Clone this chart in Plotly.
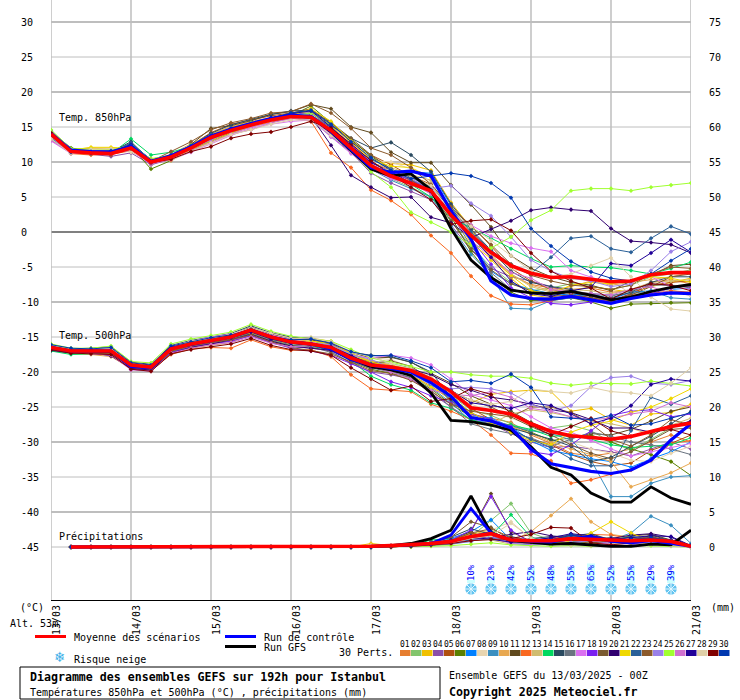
import plotly.graph_objects as go

hours = list(range(0, 198, 6))
day_ticks = list(range(0, 216, 24))
day_labels = ["13/03","14/03","15/03","16/03","17/03","18/03","19/03","20/03","21/03"]
left_ticks = list(range(30, -50, -5))
right_ticks = list(range(75, -5, -5))
snow_hours = list(range(126, 192, 6))
snow_pct = [10,23,42,52,48,55,65,52,55,29,39]

mean850 = [14,11.5,11.3,11.2,12,10,10.7,12,13.5,14.5,15.3,16,16.5,16.4,14.5,12,9.5,8,7,5.9,2.4,-0.5,-2.9,-4.8,-5.9,-6.5,-6.4,-6.8,-7.1,-7,-6.1,-5.8,-5.8]
ctrl850 = [14,11.7,11.5,11.4,12.2,10.1,10.9,12.2,13.7,14.7,15.5,16.2,16.7,16.5,14.4,11.8,9.2,8.5,8.7,8,3,-1,-7,-9,-9.5,-9.6,-9.2,-9.7,-10.2,-9.5,-9,-8.7,-8.8]
gfs850 = [14,11.6,11.4,11.3,12.1,10.1,10.8,12.1,13.6,14.6,15.4,16.1,16.6,16.4,14.3,11.7,9,8,8.3,6,0.5,-4,-6.5,-8.3,-8.7,-8.8,-8.5,-9,-9.7,-9.3,-8.5,-7.9,-7.5]
mean500 = [-16.5,-17,-17,-17,-19,-19.3,-16.7,-16,-15.5,-15,-14,-15,-15.7,-16,-16.5,-18,-19,-19.3,-19.8,-21,-22.8,-25.1,-25.5,-26,-27.4,-28.5,-29.1,-29.4,-29.6,-29.2,-28.5,-27.8,-27.3]
ctrl500 = [-16.5,-17,-17,-17,-19.2,-19.4,-16.6,-16,-15.5,-15,-14,-15,-15.7,-16,-16.7,-18.2,-19,-19.5,-20,-21.5,-23.5,-26.5,-27,-28,-31,-33.1,-33.7,-34.2,-34.5,-34,-32.6,-29.7,-27.4]
gfs500 = [-16.5,-17,-17,-17.1,-19.1,-19.4,-16.6,-16,-15.5,-15,-14,-15,-15.7,-16,-16.6,-18.1,-19.2,-19.7,-20.5,-23,-26.9,-27.1,-27.6,-28.3,-30.7,-33.6,-34.7,-37.3,-38.6,-38.6,-36.4,-38,-38.9]
P0 = [0]*14
meanp = P0+[0.05,0.1,0.2,0.3,0.5,0.8,1.5,1.9,1.0,0.9,0.9,1.2,1.1,1,0.9,1,0.8,0.1]
ctrlp = P0+[0.05,0.1,0.2,0.3,0.5,1.7,5.5,2,1,0.8,0.7,1.2,1.5,0.8,0.6,0.9,0.5,0.1]
gfsp = P0+[0.05,0.1,0.2,0.5,1.2,2.4,7.3,2,0.9,0.6,0.4,0.5,0.3,0.1,0.1,0.4,0.3,2.4]

member_colors = ["#E67E30","#82C46C","#F0C000","#8B4FA8","#B05010","#5B8000","#0080FF","#E8D5B0","#3A8FC0","#E8A850","#604A1E","#F96820","#D0BC70","#00D860","#2A4A60","#6A7480","#DA70F0","#7A20F0","#7A5A30","#300070","#F0D800","#2A6098","#8B5A2B","#9A80E8","#A0FF30","#D070D0","#200098","#E0D0A8","#800000","#0038B0"]

t850 = [
[13.5,11.3,11.5,11.4,12,9.8,10.5,11.9,13.3,14.6,15.2,15.9,16.4,16.8,14,12.2,10,8.8,7.2,6.2,2.5,-0.5,-3.5,-6.2,-7.5,-8,-8.2,-8,-8.6,-8.4,-7.2,-6.8,-7.4],
[14.2,11.6,11.4,11.2,12.8,10.2,11,12.3,13.8,14.9,15.6,16.3,17,17.2,15,12.6,9.6,7.6,6.4,5,1.5,-2,-5,-7.2,-8.4,-8,-7.4,-7.8,-8.2,-7.6,-6.4,-6,-5.4],
[13.8,11.8,12,11.8,11.6,9.9,10.6,11.6,14,15,15.7,16,16.4,16.6,15.2,12.8,10.4,9.8,9.6,8.8,4.2,0.6,-4,-6.6,-9,-9.4,-8.4,-7.8,-8.2,-8.6,-7.8,-7.2,-6.6],
[13.2,11.4,11.1,10.8,11.3,9.6,10.4,11.8,13,14,14.6,15.6,16.4,16.2,13.6,11.4,8.4,7,5.8,4.6,1,-2.6,-5.2,-6.4,-7,-7.8,-8.6,-9.2,-9.8,-8.8,-7.4,-7.6,-7.8],
[14.1,11.5,11.2,11,12.4,10,10.8,12.4,14.2,15.4,16,16.6,17,17.6,15.4,13,11,9.6,8,6.8,3.4,1,-2,-5.2,-7,-8.2,-8.8,-9.4,-10,-8.8,-7.6,-7.2,-7],
[14.4,12,11.6,11.4,12.2,9,10.2,11.8,13,14.2,15,15.8,16.6,18,15.6,13.2,10.8,9,7.4,6,2.2,-2.8,-6.4,-8.6,-9.8,-9.8,-9.4,-10,-10.9,-10.3,-10.2,-10.1,-10.1],
[13.9,11.6,11.5,11.6,12.6,10.4,10.9,12,13.4,14.8,15.4,16.2,16.8,17,15,11.8,9.2,8.8,8.6,8.4,3.8,-1.4,-5.6,-7.4,-8.2,-8.8,-9,-8.8,-9.6,-8.6,-8.4,-8.2,-8],
[13.6,11.2,11.9,11.8,11.4,10.3,10.2,11.5,12.8,13.9,14.8,15.6,16.2,16.4,14.6,12.4,10.2,10,9,7,3,0,-3,-5.4,-5.6,-6.4,-6.8,-6.6,-7,-8.8,-8.8,-8.2,-9.2],
[13.4,11.4,11.3,11.5,12.3,10.1,10.7,12.2,13.6,14.2,15,16,16.4,15.9,13.8,11.6,9,7.4,6.2,5,0.8,-3.2,-6.2,-10.9,-11,-9.8,-9.4,-8.8,-9,-8.8,-8.4,-9.4,-9.6],
[14,11.7,12,12,11.8,10.2,11.1,12.6,13.9,15.1,15.8,16.4,16.9,17.2,14.8,12,9.4,8.2,7.8,6.6,3.2,-0.2,-3.4,-6,-7.6,-8.4,-7.8,-7,-7.6,-7.2,-6.8,-6.4,-5.8],
[14.3,11.8,11.2,11.3,12.1,9.7,10.6,12.5,14.8,15.2,15.9,16.8,17.2,18.2,17.6,15,14.2,11.4,9.9,9.9,6.7,3.9,0.7,-3.4,-5.2,-6.4,-7.2,-7.6,-8.4,-7,-6.2,-4.8,-4.6],
[13.7,11.2,11,11.1,11.6,9.9,10.3,11.7,13.2,14.3,15.1,15.7,16.3,15.8,11.3,9.2,6,4.5,2.5,-0.5,-3,-6.3,-9.1,-10.3,-10.4,-9.8,-9.2,-9.6,-9.8,-9,-8.8,-8.4,-8.6],
[14.1,11.5,11.7,11.7,12,10,11,12.2,13.6,14.7,15.5,16.1,16.6,16.8,14.6,12.2,9.8,9.2,8.2,7.4,3.6,0.2,-3.2,-6,-7.8,-8.6,-8.2,-8.4,-8.8,-8.2,-7.2,-7,-6.8],
[14,11.4,11.3,11.2,13.3,11,11.4,12.2,13.5,14.4,15.4,16,16.5,16.6,14.4,12,9.6,7.8,6.8,5,2,0.6,-0.9,-2.4,-3.8,-5,-4.8,-5,-5.1,-5.5,-6,-5.2,-4.3],
[14.2,11.6,11.4,11.4,12.9,10.1,10.9,12.3,14.1,15.3,16.1,16.8,17.3,17.4,15.2,13.4,12,12.8,11,8.6,4,0.4,-2.6,-5.6,-7.2,-7.8,-8.2,-9.2,-9.4,-8.6,-7.2,-6.4,-6.4],
[13.7,11.3,11.4,11.3,12.2,10.2,10.7,12,13.4,14.5,15.2,15.8,16.3,16.5,14.2,11.8,9.2,8.4,7.6,6,2.6,-2,-5.8,-8.2,-8.8,-8.6,-8.4,-8.8,-9.2,-8.4,-7.6,-7.6,-8],
[13,11.2,11.6,11.5,11.8,10.4,10.4,11.4,12.6,13.8,14.8,15.4,15.8,16,13.6,11.2,9,7.6,6.8,5.6,2.4,1,-0.6,-1.6,-2.3,-2.8,-5.5,-6.4,-7.4,-7,-6.4,-7.8,-8.2],
[14.5,11.7,11.5,11.5,12.5,10.1,10.8,12.1,13.4,14.8,15.5,16.2,16.8,17,15,12.5,10,8.5,7.4,6,3,-1,-4.6,-8,-9.4,-10.2,-10.4,-10,-9.6,-9.2,-8.8,-8,-7.6],
[14,11.5,11.3,11.2,11.7,9.8,10.6,12,13.5,14.8,15.6,16.3,16.9,17.5,15.6,13.4,11,9,7.4,5.6,1.6,-2.4,-5.4,-7.4,-8.4,-9.2,-9,-9.4,-9.8,-9,-7.8,-6.4,-6],
[14.2,11.6,11.4,11.4,12.3,10,10.8,12.2,13.7,14.6,15.2,16,16.6,16.5,12.4,8.1,6.4,4.9,5,2.1,1.3,-0.8,0.4,1.6,3.1,3.5,3.2,3,0.5,-1.3,-1.5,-1.8,-3],
[13.8,11.7,12.1,12.1,11.9,10.5,10.8,11.6,13,14.1,15,15.8,16.6,17.6,15.8,13,10.4,9.4,9.2,7.8,2.8,-1.6,-3.8,-6.2,-8.4,-8.8,-7.6,-7.2,-7.4,-7,-6.4,-6.6,-7.2],
[13.9,11.5,11.2,11.3,12.7,10.3,10.9,12.4,13.9,14.6,15.3,16.2,16.6,16.7,14.9,12.1,10.4,9,7.8,6.4,3.4,0,-2.6,-4.6,-5.9,-3.6,-0.9,-0.6,-2.4,-2.9,-0.9,0.8,-0.3],
[14.1,11.6,11.6,11.5,12.4,10.1,11.5,12.9,14.6,15.6,16.2,17,17.2,18.3,17,14.8,12,11,9.2,6.8,3.6,0.8,-1.8,-4.6,-6.2,-7,-7.6,-7.8,-8.2,-7.6,-6,-5,-5.2],
[13.6,11.3,11.3,11.2,12,10,10.6,11.9,13.2,14.4,15.2,15.9,16.4,16.6,14.4,12.2,9.6,8.6,7.6,6.2,6.6,4.1,2.3,-0.7,-4,-5.6,-6.6,-7,-7.8,-7.4,-5.5,-2.8,-1.4],
[14.6,11.9,11.8,11.7,12.4,10.4,11,12.4,13.6,14.8,15.6,16.2,16.6,17,15.2,11.6,8.6,6.4,2.8,1.4,0,-1.9,-2.3,-0.7,1.7,3.1,5.9,6.2,6.2,5.9,6.4,6.7,7],
[13.1,11.3,11.5,11.4,11.6,9.7,10.4,11.6,12.8,14,15,15.6,16.2,16.1,14,11.4,9.4,8,7,5.4,2.2,-1.2,-3.6,-5.8,-6.6,-8.2,-8.6,-8.8,-9,-8.2,-7.8,-8.8,-8.8],
[14,11.5,11.4,11.4,12.5,10.2,10.8,12.1,13.5,14.7,15.4,16.3,16.9,17.3,15,12.3,9.9,8.6,7,5.8,3,-0.6,-3.6,-7,-8.8,-9.2,-8.4,-7.9,-4.5,-4.8,-3,-1.1,-2.9],
[13.3,11.2,11.8,11.9,11.5,10.2,10.5,11.5,12.7,13.9,14.6,15.4,16,16,13.8,11.6,9.4,8.8,8,6.6,2.8,0.8,-1.2,-3.4,-5.6,-6.4,-6,-4.8,-3.7,-6.4,-9.3,-11,-11.3],
[14.1,11.6,11.3,11.2,11.9,9.9,10.4,11.5,12.2,13.4,14,14.3,15,15.8,14.8,12.6,10.2,8.2,6.4,4.6,1.1,1.6,1.8,0.2,-3,-5.6,-7,-8,-9.6,-8.2,-7.4,-7.6,-8.4],
[13.9,11.4,11.5,11.6,12.4,10,11,12.3,13.7,14.8,15.5,16.3,17,17.4,15.4,12.9,10.6,8.8,7.6,8,8.4,8,7,4.9,0.5,-2,-4.2,-5.7,-6.6,-7,-6,-4.1,-2.4],
]

t500 = [
[-16.3,-16.9,-17.1,-17,-19,-19.4,-16.8,-16.1,-15.6,-15,-14.2,-15.2,-15.8,-16.2,-16.4,-18,-19,-19.5,-20.4,-22,-24,-26,-26.6,-27.2,-29,-30.2,-31.6,-32,-31.6,-31,-30,-29,-30],
[-16.6,-17.2,-17,-16.8,-18.8,-19.2,-16.5,-15.9,-15.3,-14.8,-13.9,-14.8,-15.5,-15.6,-16.2,-17.6,-18.4,-18.8,-19.4,-21,-23.4,-25.4,-26.2,-27.4,-28.4,-28,-27.6,-28.4,-30,-31.2,-29.6,-28,-27],
[-16,-16.8,-17.2,-17.2,-19.2,-19.6,-17,-16.3,-15.8,-15.4,-14.4,-15.4,-16,-15.2,-15.6,-17.4,-18.6,-19,-19.6,-20.8,-22.6,-24.4,-23.2,-22.8,-22.6,-22.8,-25.6,-25.2,-26.8,-27.6,-26,-25.8,-24.6],
[-16.8,-17.1,-17.4,-17.6,-19.6,-19.8,-17.2,-16.5,-16,-15.6,-14.8,-15.8,-16.4,-16.6,-17,-18.8,-20,-20.4,-21,-23,-25,-26.8,-27.4,-28.8,-30,-30.8,-30.6,-31,-31.4,-32,-31,-30,-31],
[-16.2,-16.9,-16.9,-16.6,-18.9,-19.2,-16.6,-15.9,-15.4,-15,-14,-14.9,-15.7,-15.8,-16.4,-17.8,-18.6,-19.2,-19.6,-21.4,-23.2,-25.2,-26.8,-28.2,-29.6,-30.4,-31.8,-32.8,-33.4,-33,-31.2,-30.2,-29],
[-16.7,-17.3,-17.2,-17.3,-19.4,-19.7,-17.1,-16.4,-15.8,-15.2,-14.4,-15.6,-16.2,-16.3,-16.9,-18.4,-19.6,-20.2,-20.8,-22.4,-24.6,-26.4,-27,-27.6,-28.6,-29.8,-29.4,-29,-30,-31,-31.8,-32.8,-34.8],
[-16.4,-17,-16.8,-17,-18.9,-19.3,-16.7,-16,-15.5,-14.9,-14.1,-15,-15.6,-15.9,-16.4,-17.9,-19,-19.4,-20.2,-21.8,-23.8,-26.2,-26.6,-27.8,-29.8,-31.2,-31.8,-32.4,-32.8,-33.6,-32.4,-31.4,-30],
[-16.1,-16.8,-17.1,-16.9,-18.7,-19,-16.4,-15.7,-15.2,-14.9,-14.3,-14.8,-15.2,-15,-15.8,-17,-18,-18.2,-19.4,-20.6,-23.2,-24.6,-25.6,-26.6,-27.6,-28.6,-30,-31,-31.6,-32.6,-32.8,-31.6,-30.6],
[-16.5,-17.1,-17,-17.2,-19.3,-19.5,-16.8,-16.1,-15.7,-15.2,-14.2,-15.1,-15.9,-16.2,-16.8,-18.2,-19.2,-19.6,-20.6,-22.2,-24.4,-27,-27.2,-27.8,-28.4,-28.8,-29.7,-32.6,-37.8,-37.8,-35.9,-35,-34.8],
[-16.9,-17.4,-17.5,-17.8,-19.5,-19.9,-17.4,-16.6,-16.2,-15.8,-14.6,-15.4,-15.4,-15.4,-16,-17.4,-18.4,-19,-20,-21.6,-24.2,-26.4,-27.2,-27.8,-28.8,-30,-31,-31.8,-32.8,-36.4,-35.4,-34.4,-33],
[-16.6,-17,-16.9,-16.7,-18.8,-19.1,-16.5,-15.8,-15.2,-14.7,-13.6,-14.6,-15.2,-15.4,-16,-17.2,-18,-17.9,-18.6,-20.2,-21.6,-23.4,-24.6,-25.6,-27.2,-28.4,-29.4,-28.8,-29,-28.2,-27,-25.6,-25],
[-16.8,-17.2,-17.3,-17.4,-19.4,-19.8,-17.5,-16.7,-16.5,-16.6,-15.4,-16.4,-16.9,-16.8,-17.8,-20.4,-22.4,-22.6,-22.8,-24.6,-25.6,-26.8,-29,-31.6,-31.7,-32.7,-35.9,-35.4,-34.6,-34,-32.6,-30.2,-29.8],
[-16.4,-16.9,-17,-16.9,-19.1,-19.3,-16.6,-16,-15.4,-15,-14,-15,-15.6,-15.8,-16.2,-17.8,-18.8,-19.2,-20,-21.4,-24.2,-26.2,-27.4,-26,-25.4,-25.8,-26.4,-27,-27.4,-28,-29,-27.6,-26.6],
[-17,-17.5,-17.4,-17.2,-19.3,-19.5,-17,-16.2,-15.6,-15.2,-14.3,-15.3,-15.9,-16.3,-16.7,-18.4,-20.6,-21.8,-22.6,-24.4,-25.2,-26.8,-27.6,-27.6,-28.2,-29.2,-29,-29.6,-30.4,-30.8,-30.6,-30.4,-29.4],
[-16.2,-16.7,-16.6,-16.4,-18.6,-18.9,-16.2,-15.5,-15,-14.5,-13.4,-14.4,-15,-15.2,-15.8,-17.2,-17.6,-17.8,-18.6,-20,-23.6,-25.8,-27.2,-28,-28.8,-29.6,-30.6,-32.8,-32.2,-30.6,-29.2,-27.4,-25.6],
[-16.6,-17.1,-17.2,-17.1,-19.2,-19.6,-16.9,-16.2,-15.7,-15.3,-14.5,-15.5,-16.1,-16.4,-17.2,-18.6,-19.4,-20,-20.8,-22.6,-25,-27.4,-28.2,-28.8,-29.4,-30.6,-29.6,-28.6,-29.2,-30,-30.4,-31,-31.8],
[-16.3,-16.8,-16.8,-16.5,-18.7,-19.1,-16.3,-15.6,-15,-14.6,-13.8,-14.7,-15.4,-15.7,-16.4,-17.6,-18,-17.6,-18,-19,-21,-23.2,-24,-24.8,-26.4,-28,-28.6,-29.8,-31,-32,-31.4,-30.8,-30.2],
[-16.7,-17.2,-17.1,-17.5,-19.6,-19.8,-17.2,-16.4,-15.9,-15.6,-14.8,-15.8,-16.6,-17,-17.6,-18.8,-20,-21.4,-22.2,-23.4,-24.4,-26,-26.8,-27.8,-31.4,-31.8,-30.4,-28.4,-26.2,-25.6,-25.4,-26.4,-26],
[-16.5,-17,-16.9,-17.1,-19,-19.2,-16.8,-16.1,-15.6,-15.1,-14.1,-15.1,-15.8,-16,-16.3,-17.7,-18.8,-18.4,-19.2,-21,-22.8,-24,-25,-26.4,-27.8,-29,-30.4,-31.6,-32.4,-31.4,-29.8,-28.2,-28],
[-16.9,-17.3,-17.2,-17.7,-19.5,-19.7,-17.3,-16.5,-16,-15.4,-14.6,-15.6,-16.3,-16.6,-16.9,-18.3,-19.4,-19.8,-19.6,-20.4,-21.8,-22.6,-23.6,-24,-24.6,-25.4,-25.8,-26.8,-28,-28,-28.6,-27.8,-27],
[-16.1,-16.7,-17,-16.8,-18.8,-19.2,-16.4,-15.7,-15.3,-14.9,-14.4,-15.2,-15.6,-15.6,-15.9,-17.3,-18.6,-19.2,-20.4,-22.2,-23.6,-25.8,-27.2,-28.6,-29.8,-30.4,-28.6,-27.6,-27,-25.8,-25,-23.8,-22.4],
[-16.4,-17,-17.1,-17,-19.1,-19.4,-16.7,-16,-15.5,-15,-14,-15,-15.8,-16.1,-16.5,-17.9,-18.8,-19.4,-20,-21.6,-24,-26.6,-27,-28.2,-29.6,-30.8,-32.4,-33.4,-33.4,-28.4,-23.6,-24.6,-23.4],
[-16.6,-17.1,-17.3,-17.4,-19.3,-19.6,-17,-16.3,-15.8,-15.4,-14.7,-15.7,-16.5,-16.9,-17.4,-18.6,-19.8,-20.2,-21.2,-22.8,-24.6,-25.6,-26,-26.4,-25,-25,-25.8,-27.4,-29.6,-30.6,-29,-26.8,-27.6],
[-16.3,-16.9,-16.9,-16.8,-18.9,-19.1,-16.6,-15.9,-15.4,-14.9,-14.2,-15.1,-15.7,-15.9,-16.1,-17.5,-18.2,-19.4,-20.4,-21.6,-22.4,-22.2,-22.4,-23,-24.6,-25.6,-24.8,-22.1,-20.8,-20.6,-21.6,-21.8,-21.2],
[-16,-16.6,-16.6,-16.3,-18.5,-18.7,-16,-15.3,-14.8,-14.3,-13.2,-14.2,-14.9,-15.2,-15.6,-16.8,-18,-18.6,-19.2,-20,-20,-20.4,-20.6,-20.6,-20.9,-21.6,-21.9,-21.6,-21.7,-21.7,-21.3,-21.6,-22],
[-16.7,-17.2,-17.4,-17.6,-19.7,-19.9,-17.3,-16.6,-16.1,-15.8,-15,-15.9,-16.4,-16.2,-16.6,-18,-19.2,-20,-21,-22.6,-23.2,-23.4,-22.8,-23.6,-25.2,-25.6,-26.4,-26.8,-26.6,-26,-25.6,-24.4,-25],
[-16.5,-17,-17,-16.9,-19,-19.3,-16.7,-16,-15.5,-15.1,-14.3,-15.3,-15.9,-16.1,-16.4,-17.6,-19,-19.2,-19.8,-21.2,-22.6,-24.4,-24.8,-25.2,-24.4,-24.8,-26,-27.4,-26.6,-24.8,-21.8,-21,-21.3],
[-16.2,-16.8,-16.7,-16.6,-18.8,-19,-16.4,-15.6,-15.2,-14.6,-13.7,-14.5,-15.2,-15.2,-15.7,-17.2,-17.8,-18.8,-19.6,-20.8,-22.8,-24,-24.6,-24.2,-22.4,-22.8,-23,-22.2,-22.8,-23,-23.4,-21.6,-19.4],
[-16.8,-17.3,-17.4,-17.5,-19.6,-19.9,-17.4,-16.8,-16.4,-16,-15.2,-16.2,-16.8,-17,-17.6,-19.4,-21,-22.6,-22,-24.2,-23.8,-22.4,-23.2,-26,-27.6,-29,-27.8,-26.6,-28.4,-29.2,-28.6,-28.2,-29],
[-16.1,-16.6,-16.7,-16.5,-18.7,-19,-16.3,-15.7,-15.1,-14.7,-13.9,-14.9,-15.4,-15.3,-15.9,-17.1,-17.7,-17.6,-18.4,-19.4,-21.4,-21.2,-21.6,-20.3,-22.2,-26.4,-26.6,-26.8,-26.2,-27.6,-27.4,-26.6,-25.8],
]

prec = [
P0+[0,0.1,0.1,0.2,0.4,0.8,1.4,1.8,0.9,0.6,1,1.4,1.6,1.2,1,0.8,0.6,0.1],
P0+[0,0,0.1,0.2,0.3,0.7,1.5,3.8,6.2,2,1,0.8,1.2,1,0.6,0.9,0.5,0],
P0+[0,0.5,0.2,0.1,0.5,1,1.8,2.4,0.8,0.4,0.8,1.6,1.4,0.6,1.2,1,0.6,0],
P0+[0,0,0,0.1,0.3,0.6,1.2,1.6,0.6,0.8,1.4,1,0.8,0.4,0.6,1.4,1,0.1],
P0+[0,0.1,0,0.2,0.2,0.9,2,1.4,0.7,0.5,0.9,1.3,1.8,0.8,0.4,0.7,0.9,0],
P0+[0,0,0.2,0.1,0.4,0.5,1,1.8,1.2,0.6,0.3,0.5,0.2,0.6,1,1.6,0.4,0],
P0+[0,0,0.1,0.1,0.3,1.2,2.2,3.9,1,0.4,0.7,1.8,1.4,0.9,0.5,1.2,0.8,0.1],
P0+[0,0.1,0.1,0.3,0.5,0.7,1.6,2.4,3.6,1.2,0.6,0.4,0.8,0.4,0.2,0.5,0.2,0],
P0+[0,0,0,0.2,0.2,0.4,0.8,1.6,0.5,0.3,0.4,0.9,1.2,1,2,4.4,3.1,0.5],
P0+[0,0,0.2,0.3,0.2,0.6,1.2,1.4,0.8,2.2,4.5,6.9,3.6,1.8,1.4,0.9,0.5,0],
P0+[0,0,0.1,0.2,0.5,1,2.2,7.6,2.2,0.8,1,1.8,1.2,0.7,1.6,1.8,1,0.2],
P0+[0,0.1,0.1,0.1,0.3,0.5,0.9,1.2,0.6,0.7,1.2,1.6,1.8,1.7,1.2,0.8,0.5,0],
P0+[0,0.3,0.1,0.2,0.4,0.8,1.5,1,0.4,0.5,0.7,1,0.6,0.4,0.6,1.1,0.7,0.1],
P0+[0,0,0,0.2,1,1.2,0.9,1.6,4.6,1.4,0.6,0.8,0.5,1,1.5,0.6,0.3,0],
P0+[0,0,0.1,0.1,0.6,1.4,2.6,1.8,0.7,1.2,1.5,1.6,1.9,1,0.8,1.7,0.9,0.1],
P0+[0,0,0,0.1,0.2,0.5,1.1,2,0.8,0.4,0.3,0.6,1,1.4,1,0.4,0.2,0],
P0+[0,0.1,0.2,0.1,0.4,0.6,1,1.4,0.5,0.8,1,0.7,0.4,0.2,0.5,0.8,0.4,0],
P0+[0,0,0.1,0.2,0.4,1,2.4,7.2,2.4,0.6,0.7,1.2,1.5,0.9,0.4,0.6,0.3,0.1],
P0+[0,0,0.1,0.3,0.7,1.4,3.6,2.8,1,0.6,0.9,1.3,0.7,0.5,1,1.3,0.6,0],
P0+[0,0,0,0.1,0.2,0.8,1.2,1.4,1.8,2.2,1.6,1.2,0.9,1.2,1.7,1.9,1.4,0.1],
P0+[0,0.2,0.1,0.2,0.3,0.6,1.4,2,0.9,0.6,0.5,0.8,2,3.6,2,0.8,0.4,0],
P0+[0,0,0.1,0.1,0.5,0.7,1,1.2,1.5,0.9,1.1,1.5,1.2,0.7,1.5,1.2,0.6,0],
P0+[0,0,0,0.2,0.4,0.9,2,2.6,1.4,0.8,0.9,1,0.5,0.8,1.2,1.4,1,0.2],
P0+[0,0.1,0.1,0.2,0.3,0.5,0.8,1.5,0.6,0.3,0.4,0.7,0.9,0.5,1,0.6,0.3,0],
P0+[0,0,0,0,0.1,0.2,0.4,0.6,0.3,0.2,0.1,0.2,0.1,0.3,0.2,0.2,0.1,0],
P0+[0,0.1,0.2,0.1,0.3,0.7,1.3,1.7,0.8,0.5,0.6,0.4,0.3,0.6,0.8,0.5,0.2,0],
P0+[0,0,0.1,0.2,0.6,1,1.4,1.1,0.7,1,1.3,1.9,1.6,1.1,1.3,1.6,1.5,0.2],
P0+[0,0.2,0.1,0.3,0.5,0.6,1.2,1.6,3.4,1.3,0.5,0.3,0.2,0.4,0.7,0.4,0.2,0],
P0+[0,0,0,0.1,0.3,0.5,0.9,1.1,1.2,1.8,2.8,2.7,0.6,0.3,0.6,0.9,0.7,0.1],
P0+[0,0,0.1,0.2,0.4,0.8,1.6,2.2,1,0.7,1,1.7,1.4,0.8,1.1,1.3,1,0.2],
]

MONO = "DejaVu Sans Mono"
GRID = "#BEBEBE"
W, H = 740, 700
L, R, T, B = 51, 49, 0, 100
Y0 = 232  # pixel of 0 degC
def t_at(py): return (Y0 - py) / 7

fig = go.Figure()

def line(x, y, color, width, axis="y", markers=False):
    fig.add_trace(go.Scatter(x=x, y=y, mode="lines+markers" if markers else "lines", yaxis=axis,
                             line=dict(color=color, width=width), marker=dict(color=color, size=3.5, symbol="diamond"),
                             hoverinfo="skip", showlegend=False))

for c, a, b, p in zip(member_colors, t850, t500, prec):
    line(hours, a, c, 1, markers=True)
    line(hours, b, c, 1, markers=True)
    line(hours[1:], p, c, 1, "y2", markers=True)

for gfs, ctrl, mean, axis, x in ((gfs850,ctrl850,mean850,"y",hours),(gfs500,ctrl500,mean500,"y",hours),(gfsp,ctrlp,meanp,"y2",hours[1:])):
    line(x, gfs, "#000000", 2.8, axis)
    line(x, ctrl, "#0000FF", 3.2 if axis=="y" else 2.8, axis)
    line(x, mean, "#FF0000", 3.6, axis)

# snow risk bars, flakes and labels
flake_y = [t_at(589)]*len(snow_hours)
fig.add_trace(go.Bar(x=snow_hours, y=[p*0.3/7 for p in snow_pct], base=t_at(583), width=2.4, marker=dict(color="#CCFFFF", line=dict(width=0)), hoverinfo="skip", showlegend=False))
fig.add_trace(go.Scatter(x=snow_hours, y=flake_y, mode="markers", marker=dict(symbol="circle", size=11.5, color="#62C4F0", line=dict(width=0)), hoverinfo="skip", showlegend=False))
fig.add_trace(go.Scatter(x=snow_hours, y=flake_y, mode="markers", marker=dict(symbol="asterisk-open", size=10, color="#E6F8FF", line=dict(width=1, color="#E6F8FF")), hoverinfo="skip", showlegend=False))

ann = []
def text(px, py, s, size=10, bold=False, color="#000000", anchor="left", angle=0, family=MONO):
    if anchor == "left":
        px -= 2
    ann.append(dict(xref="paper", yref="paper", x=(px-L)/(W-L-R), y=1-(py-T)/(H-T-B), text=f"<b>{s}</b>" if bold else s, showarrow=False, xanchor=anchor, yanchor="middle", textangle=angle, font=dict(family=family, size=size, color=color)))

for h, p in zip(snow_hours, snow_pct):
    ann.append(dict(x=h, y=t_at(573), xref="x", yref="y", text=f"{p}%", showarrow=False, textangle=-90, font=dict(family=MONO, size=9, color="#0000FF")))

text(59,117,"Temp. 850hPa"); text(59,335,"Temp. 500hPa"); text(59,536,"Précipitations")
text(20,607,"(°C)"); text(711,607,"(mm)"); text(10,623,"Alt. 53m")
text(74,637,"Moyenne des scénarios"); text(264,637,"Run de contrôle"); text(264,647,"Run GFS")
text(74,659,"Risque neige"); text(339,652,"30 Perts.")
text(60,657,"\u2744",size=14,color="#3CB0E8",anchor="center",family="DejaVu Sans")
text(449,675,"Ensemble GEFS du 13/03/2025 - 00Z")
text(449,692,"Copyright 2025 Meteociel.fr", size=11.6, bold=True)
text(30,677,"Diagramme des ensembles GEFS sur 192h pour Istanbul", size=11.6, bold=True)
text(30,692,"Températures 850hPa et 500hPa (°C) , précipitations (mm)")

shapes = []
def pxrect(x0,y0,x1,y1,fill=None,lc=None,lw=0):
    shapes.append(dict(type="rect", xref="paper", yref="paper", x0=(x0-L)/(W-L-R), x1=(x1-L)/(W-L-R), y0=1-(y1-T)/(H-T-B), y1=1-(y0-T)/(H-T-B), fillcolor=fill or "rgba(0,0,0,0)", line=dict(color=lc or "rgba(0,0,0,0)", width=lw), layer="above"))
pxrect(35,635,66,638,"#FF0000"); pxrect(225,635,256,638,"#0000FF"); pxrect(225,645,256,648,"#000000")
pxrect(20,667,440,699,None,"#000000",1)
for i, c in enumerate(member_colors):
    x = 400 + i*11
    pxrect(x,650,x+10.5,656,c)
    text(x+5.2,644,f"{i+1:02d}",size=8,anchor="center")
for v in left_ticks:
    shapes.append(dict(type="line", xref="paper", x0=0, x1=1, yref="y", y0=v, y1=v, layer="below", line=dict(color="#808080" if v==0 else GRID, width=2 if v%10==0 else 1)))
for h in day_ticks:
    shapes.append(dict(type="line", yref="paper", y0=0, y1=1, xref="x", x0=h, x1=h, layer="below", line=dict(color=GRID, width=1.5)))

left_text = [f"{v:<3d}".replace(" ", "\u00a0") for v in left_ticks]
ylo, yhi = t_at(600), t_at(0)
fig.update_layout(
    width=W, height=H, margin=dict(l=L, r=R, t=T, b=B, pad=0), paper_bgcolor="#fff", plot_bgcolor="#fff",
    showlegend=False, barmode="overlay", annotations=ann, shapes=shapes, font=dict(family=MONO, size=10, color="#000"),
    xaxis=dict(range=[0,192], tickmode="array", tickvals=day_ticks, ticktext=day_labels, tickangle=-90, ticklabelshift=6, ticks="", showgrid=False, zeroline=False, showline=True, linecolor="#000", linewidth=1, tickfont=dict(family=MONO,size=10)),
    yaxis=dict(range=[ylo,yhi], tickmode="array", tickvals=left_ticks, ticktext=left_text, ticklabelstandoff=11, ticks="", showgrid=False, zeroline=False, tickfont=dict(family=MONO,size=10)),
    yaxis2=dict(range=[ylo+45,yhi+45], overlaying="y", side="right", tickmode="array", tickvals=right_ticks, ticklabelstandoff=17, ticks="", showgrid=False, zeroline=False, tickfont=dict(family=MONO,size=10)),
)
fig.write_html("out.html", config={"displayModeBar": False}, post_script="document.body.style.margin='0';")
